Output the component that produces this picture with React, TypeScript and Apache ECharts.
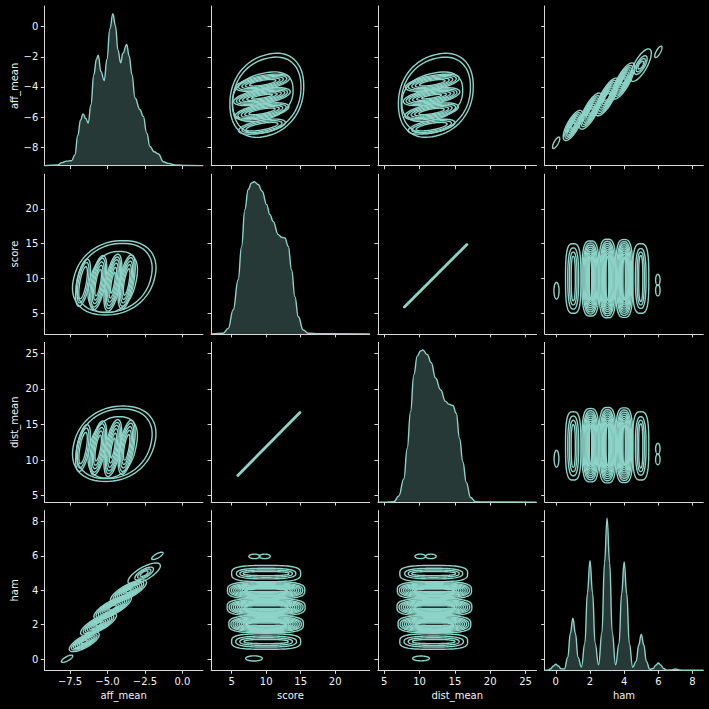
import { useEffect, useRef } from 'react';
import * as echarts from 'echarts';

const TEAL = '#8dd3c7';
const FILL = 'rgba(141, 211, 199, 0.27)';
const INK = '#f2f2f2';
const SPINE = '#d9d9d9';
const FONT = 'DejaVu Sans';

// variables of the pair grid, in row / column order
const varNames = ['aff_mean', 'score', 'dist_mean', 'ham'];
const varRanges: [number, number][] = [
  [-9.22, 1.37],
  [2.03, 25.0],
  [4.1, 26.55],
  [-0.65, 8.63],
];
const xTickValues = [[-7.5, -5, -2.5, 0], [5, 10, 15, 20], [5, 10, 15, 20, 25], [0, 2, 4, 6, 8]];
const xTickLabels = [
  ['−7.5', '−5.0', '−2.5', '0.0'],
  ['5', '10', '15', '20'],
  ['5', '10', '15', '20', '25'],
  ['0', '2', '4', '6', '8'],
];
const yTickValues = [[-8, -6, -4, -2, 0], [5, 10, 15, 20], [5, 10, 15, 20, 25], [0, 2, 4, 6, 8]];
const yTickLabels = [
  ['−8', '−6', '−4', '−2', '0'],
  ['5', '10', '15', '20'],
  ['5', '10', '15', '20', '25'],
  ['0', '2', '4', '6', '8'],
];

// diagonal KDEs: [value, relative density] (peak = 1)
const affKde = [
  [-9.22, 0], [-8.32, 0.005], [-8.05, 0.02], [-7.74, 0.03], [-7.4, 0.033], [-7.18, 0.07],
  [-6.98, 0.2], [-6.8, 0.3], [-6.63, 0.341], [-6.45, 0.31], [-6.29, 0.28], [-6.11, 0.4],
  [-5.91, 0.6], [-5.74, 0.7], [-5.62, 0.726], [-5.44, 0.62], [-5.22, 0.56], [-5.04, 0.7],
  [-4.84, 0.9], [-4.64, 1.0], [-4.47, 0.92], [-4.3, 0.76], [-4.12, 0.676], [-3.97, 0.74],
  [-3.72, 0.797], [-3.55, 0.72], [-3.37, 0.6], [-3.16, 0.445], [-2.83, 0.368], [-2.61, 0.324],
  [-2.38, 0.214], [-2.16, 0.126], [-1.89, 0.092], [-1.6, 0.077], [-1.27, 0.026], [-0.93, 0.015],
  [-0.5, 0.005], [0.3, 0.001], [1.37, 0],
];
const scoreKde = [
  [2.03, 0], [3.78, 0.004], [4.5, 0.036], [5.23, 0.158], [5.95, 0.356], [6.44, 0.574],
  [6.92, 0.817], [7.4, 0.949], [7.89, 0.993], [8.27, 1.0], [8.85, 0.982], [9.43, 0.938],
  [10.07, 0.85], [10.55, 0.784], [11.02, 0.74], [11.75, 0.653], [12.24, 0.635], [12.72, 0.631],
  [13.2, 0.576], [13.69, 0.42], [14.17, 0.245], [14.65, 0.114], [15.37, 0.026], [16.1, 0.004],
  [17.8, 0.001], [25.0, 0],
];
const distKde = [
  [4.1, 0], [5.18, 0], [6.36, 0.002], [7.06, 0.04], [7.77, 0.153], [8.25, 0.352],
  [8.72, 0.595], [9.19, 0.838], [9.67, 0.96], [10.14, 0.993], [10.46, 1.0], [11.08, 0.97],
  [11.65, 0.916], [12.26, 0.816], [12.97, 0.739], [13.68, 0.662], [14.15, 0.644], [14.71, 0.635],
  [15.19, 0.584], [15.66, 0.418], [16.13, 0.264], [16.61, 0.13], [17.22, 0.03], [17.93, 0.002],
  [19.3, 0.001], [26.55, 0],
];
const hamKde = [
  [-0.65, 0], [-0.45, 0.001], [-0.3, 0.01], [-0.15, 0.028], [0, 0.04], [0.15, 0.028], [0.3, 0.01],
  [0.5, 0.008], [0.7, 0.085], [0.85, 0.242], [1, 0.342], [1.15, 0.242], [1.3, 0.085],
  [1.5, 0.022], [1.7, 0.179], [1.85, 0.509], [2, 0.72], [2.15, 0.509], [2.3, 0.179],
  [2.5, 0.036], [2.7, 0.249], [2.85, 0.707], [3, 1.0], [3.15, 0.707], [3.3, 0.249],
  [3.5, 0.036], [3.7, 0.177], [3.85, 0.503], [4, 0.712], [4.15, 0.503], [4.3, 0.177],
  [4.5, 0.02], [4.7, 0.059], [4.85, 0.166], [5, 0.235], [5.15, 0.166], [5.3, 0.059],
  [5.5, 0.006], [5.7, 0.012], [5.85, 0.034], [6, 0.048], [6.15, 0.034], [6.3, 0.012],
  [6.5, 0.001], [6.8, 0.003], [7, 0.009], [7.2, 0.003], [7.6, 0], [8.63, 0],
];
const diagKdes = [affKde, scoreKde, distKde, hamKde];

// contour rings.
// c: centre, k: shear [x by y, y by x], n: superellipse exponent, rings: [rx, ry, n?]
type Blob = { c: [number, number]; k: [number, number]; n: number; rings: number[][] };

// x = aff_mean, y = score
const affScoreBlobs: Blob[] = [
  { c: [-4.55, 10.1], k: [0.11, 0], n: 2.2, rings: [[2.7, 5.35], [2.45, 4.95]] },
  { c: [-4.65, 9.5], k: [0.1, 0], n: 2.4, rings: [[1.55, 4.4]] },
  { c: [-6.63, 9.4], k: [0.08, 0], n: 2, rings: [[0.42, 3.4], [0.32, 2.9], [0.22, 2.3]] },
  { c: [-5.62, 9.4], k: [0.08, 0], n: 2, rings: [[0.48, 3.9], [0.4, 3.5], [0.32, 3.0], [0.24, 2.5], [0.16, 1.9]] },
  { c: [-4.64, 9.4], k: [0.08, 0], n: 2, rings: [[0.5, 4.1], [0.42, 3.7], [0.34, 3.3], [0.26, 2.8], [0.18, 2.2], [0.1, 1.5]] },
  { c: [-3.72, 9.5], k: [0.08, 0], n: 2, rings: [[0.48, 3.9], [0.4, 3.5], [0.32, 3.0], [0.24, 2.5], [0.16, 1.9]] },
];

// x = aff_mean, y = dist_mean
const affDistBlobs: Blob[] = [
  { c: [-4.55, 12.3], k: [0.11, 0], n: 2.2, rings: [[2.7, 5.3], [2.45, 4.9]] },
  { c: [-4.65, 11.8], k: [0.1, 0], n: 2.4, rings: [[1.55, 4.3]] },
  { c: [-6.63, 11.7], k: [0.08, 0], n: 2, rings: [[0.42, 3.3], [0.32, 2.8], [0.22, 2.2]] },
  { c: [-5.62, 11.7], k: [0.08, 0], n: 2, rings: [[0.48, 3.8], [0.4, 3.4], [0.32, 2.9], [0.24, 2.4], [0.16, 1.8]] },
  { c: [-4.64, 11.7], k: [0.08, 0], n: 2, rings: [[0.5, 4.0], [0.42, 3.6], [0.34, 3.2], [0.26, 2.7], [0.18, 2.1], [0.1, 1.4]] },
  { c: [-3.72, 11.8], k: [0.08, 0], n: 2, rings: [[0.48, 3.8], [0.4, 3.4], [0.32, 2.9], [0.24, 2.4], [0.16, 1.8]] },
];

// x = aff_mean, y = ham
const affHamBlobs: Blob[] = [
  { c: [-7.7, 0.02], k: [0, 0.42], n: 2, rings: [[0.38, 0.14]] },
  { c: [-6.55, 1.0], k: [0, 0.42], n: 2, rings: [[1.0, 0.38], [0.85, 0.31], [0.72, 0.26], [0.6, 0.21], [0.47, 0.16], [0.34, 0.11], [0.2, 0.07]] },
  { c: [-5.6, 2.03], k: [0, 0.42], n: 2, rings: [[1.2, 0.42], [1.02, 0.36], [0.88, 0.31], [0.74, 0.26], [0.6, 0.21], [0.46, 0.16], [0.32, 0.11], [0.18, 0.07]] },
  { c: [-4.66, 3.0], k: [0.0, 0.42], n: 2, rings: [[1.25, 0.44], [1.1, 0.38], [0.95, 0.33], [0.8, 0.28], [0.66, 0.23], [0.52, 0.18], [0.38, 0.14], [0.25, 0.1]] },
  { c: [-3.6, 3.95], k: [0, 0.42], n: 2, rings: [[1.2, 0.42], [1.02, 0.36], [0.88, 0.31], [0.74, 0.26], [0.6, 0.21], [0.46, 0.16], [0.32, 0.11], [0.18, 0.07]] },
  { c: [-2.55, 4.97], k: [0, 0.42], n: 2, rings: [[1.08, 0.42], [0.62, 0.27], [0.44, 0.19], [0.26, 0.12]] },
  { c: [-1.67, 6.0], k: [0, 0.42], n: 2, rings: [[0.38, 0.14]] },
];

// x = score, y = ham
const scoreHamBlobs: Blob[] = [
  { c: [8.24, 0.04], k: [0, 0], n: 2, rings: [[1.2, 0.15]] },
  { c: [10.0, 1.02], k: [0, 0], n: 2.6, rings: [[5.0, 0.45, 3.2], [4.4, 0.32], [3.8, 0.22], [3.2, 0.12]] },
  { c: [10.0, 2.03], k: [0, 0], n: 2.6, rings: [[5.4, 0.5, 3.2], [5.1, 0.44], [4.8, 0.38], [4.5, 0.32], [4.2, 0.27], [3.9, 0.22], [3.6, 0.17], [3.3, 0.12], [3.0, 0.07]] },
  { c: [10.0, 3.02], k: [0, 0], n: 2.6, rings: [[5.65, 0.5, 3.2], [5.35, 0.44], [5.05, 0.38], [4.75, 0.33], [4.45, 0.28], [4.15, 0.23], [3.85, 0.18], [3.55, 0.13], [3.2, 0.08]] },
  { c: [10.0, 4.0], k: [0, 0], n: 2.6, rings: [[5.6, 0.5, 3.2], [5.3, 0.44], [5.0, 0.38], [4.7, 0.32], [4.4, 0.27], [4.1, 0.22], [3.8, 0.17], [3.5, 0.12], [3.1, 0.07]] },
  { c: [10.0, 4.97], k: [0, 0], n: 2.6, rings: [[5.0, 0.47, 3.2], [4.3, 0.31], [3.8, 0.21], [3.3, 0.12]] },
  { c: [8.3, 5.97], k: [0, 0], n: 2, rings: [[0.8, 0.13]] },
  { c: [9.8, 5.97], k: [0, 0], n: 2, rings: [[0.8, 0.13]] },
];

// x = dist_mean, y = ham
const distHamBlobs: Blob[] = [
  { c: [10.2, 0.04], k: [0, 0], n: 2, rings: [[1.18, 0.14]] },
  { c: [12.0, 1.02], k: [0, 0], n: 2.6, rings: [[4.8, 0.45, 3.2], [4.2, 0.32], [3.6, 0.22], [3.0, 0.12]] },
  { c: [12.1, 2.03], k: [0, 0], n: 2.6, rings: [[5.15, 0.5, 3.2], [4.85, 0.44], [4.55, 0.38], [4.25, 0.32], [3.95, 0.27], [3.65, 0.22], [3.35, 0.17], [3.05, 0.12], [2.75, 0.07]] },
  { c: [12.1, 3.02], k: [0, 0], n: 2.6, rings: [[5.3, 0.5, 3.2], [5.0, 0.44], [4.7, 0.38], [4.4, 0.33], [4.1, 0.28], [3.8, 0.23], [3.5, 0.18], [3.2, 0.13], [2.9, 0.08]] },
  { c: [12.1, 4.0], k: [0, 0], n: 2.6, rings: [[5.25, 0.5, 3.2], [4.95, 0.44], [4.65, 0.38], [4.35, 0.32], [4.05, 0.27], [3.75, 0.22], [3.45, 0.17], [3.15, 0.12], [2.85, 0.07]] },
  { c: [12.0, 4.97], k: [0, 0], n: 2.6, rings: [[4.8, 0.47, 3.2], [4.1, 0.31], [3.6, 0.21], [3.1, 0.12]] },
  { c: [10.1, 5.97], k: [0, 0], n: 2, rings: [[0.75, 0.13]] },
  { c: [11.6, 5.97], k: [0, 0], n: 2, rings: [[0.75, 0.13]] },
];

// score vs dist_mean collapses to a thin line
const lineScore = [5.9, 14.9];
const lineDist = [7.85, 16.7];

// pair grid layout (px)
const colLefts = [44.3, 211.1, 377.9, 544.7];
const rowTops = [6, 174.2, 342.4, 510.6];
const cellW = 158.6;
const cellH = 159.7;

function ringItems(blobs: Blob[], flip: boolean): number[][] {
  const out: number[][] = [];
  for (const b of blobs) {
    for (const r of b.rings) {
      const n = r[2] ?? b.n;
      out.push(
        flip
          ? [b.c[1], b.c[0], r[1], r[0], b.k[1], b.k[0], n]
          : [b.c[0], b.c[1], r[0], r[1], b.k[0], b.k[1], n],
      );
    }
  }
  return out;
}

const renderRing = (_params: any, api: any) => {
  const cx = api.value(0);
  const cy = api.value(1);
  const rx = api.value(2);
  const ry = api.value(3);
  const kx = api.value(4);
  const ky = api.value(5);
  const n = api.value(6);
  const pts: number[][] = [];
  const steps = 80;
  for (let i = 0; i < steps; i++) {
    const t = (i / steps) * Math.PI * 2;
    const c = Math.cos(t);
    const s = Math.sin(t);
    const X = rx * Math.sign(c) * Math.pow(Math.abs(c), 2 / n);
    const Y = ry * Math.sign(s) * Math.pow(Math.abs(s), 2 / n);
    pts.push(api.coord([cx + X + kx * Y, cy + Y + ky * X]));
  }
  return {
    type: 'polygon',
    shape: { points: pts },
    style: { fill: 'none', stroke: TEAL, lineWidth: 1.4 },
  };
};

// which blob set sits in each off-diagonal cell (native orientation is x = first var)
function cellRings(r: number, c: number): number[][] | null {
  const key = `${r}${c}`;
  switch (key) {
    case '01': return ringItems(affScoreBlobs, true);
    case '02': return ringItems(affDistBlobs, true);
    case '03': return ringItems(affHamBlobs, true);
    case '10': return ringItems(affScoreBlobs, false);
    case '13': return ringItems(scoreHamBlobs, true);
    case '20': return ringItems(affDistBlobs, false);
    case '23': return ringItems(distHamBlobs, true);
    case '30': return ringItems(affHamBlobs, false);
    case '31': return ringItems(scoreHamBlobs, false);
    case '32': return ringItems(distHamBlobs, false);
    default: return null;
  }
}

function labelFor(values: number[], labels: string[]) {
  return (v: number) => {
    const i = values.findIndex((t) => Math.abs(t - v) < 1e-6);
    return i >= 0 ? labels[i] : '';
  };
}

function buildOption() {
  const grid: any[] = [];
  const xAxis: any[] = [];
  const yAxis: any[] = [];
  const series: any[] = [];
  const nameStyle = { color: INK, fontSize: 10, fontFamily: FONT };

  for (let r = 0; r < 4; r++) {
    for (let c = 0; c < 4; c++) {
      const g = r * 4 + c;
      grid.push({
        left: colLefts[c],
        top: rowTops[r],
        width: cellW,
        height: cellH,
        containLabel: false,
        outerBoundsMode: 'none',
      });
      xAxis.push({
        gridIndex: g,
        type: 'value',
        min: varRanges[c][0],
        max: varRanges[c][1],
        axisLine: { show: true, onZero: false, lineStyle: { color: SPINE, width: 1 } },
        axisTick: { show: true, length: 3.5, customValues: xTickValues[c], lineStyle: { color: SPINE, width: 1 } },
        axisLabel: {
          show: r === 3,
          customValues: xTickValues[c],
          formatter: labelFor(xTickValues[c], xTickLabels[c]),
          margin: 6,
          color: INK,
          fontSize: 10,
          fontFamily: FONT,
        },
        splitLine: { show: false },
        name: r === 3 ? varNames[c] : '',
        nameLocation: 'middle',
        nameGap: 20,
        nameTextStyle: nameStyle,
      });
      yAxis.push({
        gridIndex: g,
        type: 'value',
        min: varRanges[r][0],
        max: varRanges[r][1],
        axisLine: { show: true, onZero: false, lineStyle: { color: SPINE, width: 1 } },
        axisTick: { show: true, length: 3.5, customValues: yTickValues[r], lineStyle: { color: SPINE, width: 1 } },
        axisLabel: {
          show: c === 0,
          customValues: yTickValues[r],
          formatter: labelFor(yTickValues[r], yTickLabels[r]),
          margin: 6,
          color: INK,
          fontSize: 10,
          fontFamily: FONT,
        },
        splitLine: { show: false },
        name: c === 0 ? varNames[r] : '',
        nameLocation: 'middle',
        nameGap: 25,
        nameTextStyle: nameStyle,
      });

      if (r !== c) {
        const rings = cellRings(r, c);
        if (rings) {
          series.push({
            type: 'custom',
            xAxisIndex: g,
            yAxisIndex: g,
            data: rings,
            renderItem: renderRing,
            encode: { x: 0, y: 1 },
            clip: true,
            silent: true,
          });
        }
      }
    }
  }

  // hidden density axes for the diagonal cells
  for (let d = 0; d < 4; d++) {
    yAxis.push({ gridIndex: d * 5, type: 'value', min: 0, max: 1.05, show: false });
    series.push({
      type: 'line',
      xAxisIndex: d * 5,
      yAxisIndex: 16 + d,
      data: diagKdes[d],
      showSymbol: false,
      smooth: 0.45,
      smoothMonotone: 'x',
      lineStyle: { color: TEAL, width: 1.4 },
      areaStyle: { color: FILL, opacity: 1 },
      silent: true,
    });
  }

  // score vs dist_mean
  series.push({
    type: 'line',
    xAxisIndex: 6,
    yAxisIndex: 6,
    data: [[lineDist[0], lineScore[0]], [lineDist[1], lineScore[1]]],
    showSymbol: false,
    lineStyle: { color: TEAL, width: 2.8, cap: 'round' },
    silent: true,
  });
  series.push({
    type: 'line',
    xAxisIndex: 9,
    yAxisIndex: 9,
    data: [[lineScore[0], lineDist[0]], [lineScore[1], lineDist[1]]],
    showSymbol: false,
    lineStyle: { color: TEAL, width: 2.8, cap: 'round' },
    silent: true,
  });

  return {
    backgroundColor: '#000000',
    animation: false,
    textStyle: { fontFamily: FONT, color: INK },
    grid,
    xAxis,
    yAxis,
    series,
  };
}

export default function App() {
  const chartRef = useRef<HTMLDivElement>(null);

  useEffect(() => {
    document.body.style.margin = '0';
    document.body.style.background = '#000';
    if (!chartRef.current) return;
    const chart = echarts.init(chartRef.current, undefined, { renderer: 'svg' });
    chart.setOption(buildOption() as any);
    return () => {
      chart.dispose();
    };
  }, []);

  return <div ref={chartRef} style={{ width: 709, height: 709, background: '#000' }} />;
}
